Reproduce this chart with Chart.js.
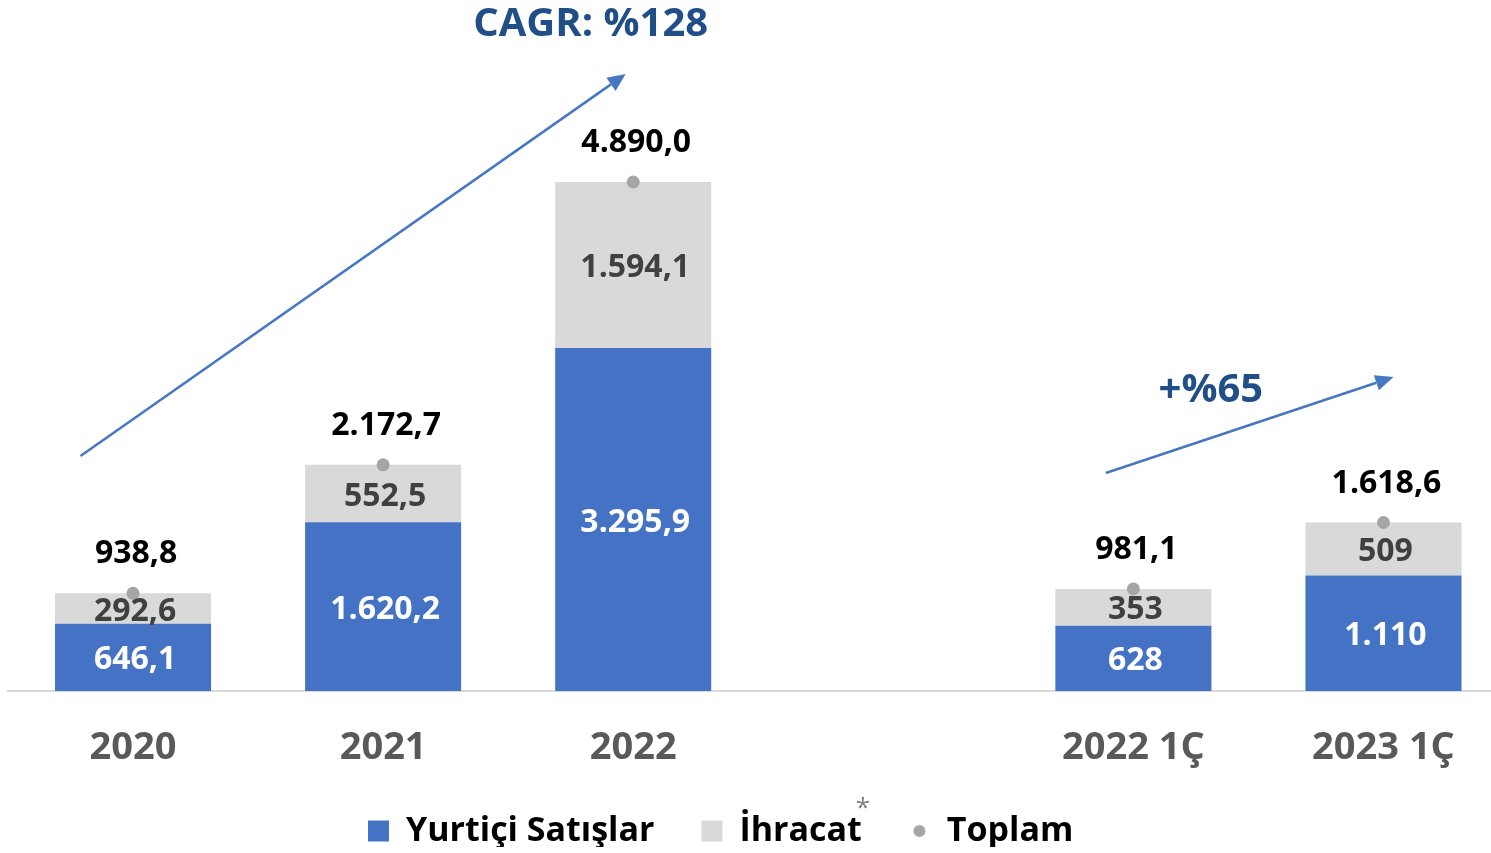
<!DOCTYPE html>
<html>
<head>
<meta charset="utf-8">
<script src="https://cdn.jsdelivr.net/npm/chart.js@4"></script>
<style>
  html, body { margin: 0; padding: 0; background: #fff; overflow: hidden; }
</style>
</head>
<body>
<canvas id="sales-chart" width="1515" height="851"></canvas>
<script>
// data (empty slot between the years and the quarters)
const categories = ['2020', '2021', '2022', '', '2022 1Ç', '2023 1Ç'];
const domesticSales = [646.1, 1620.2, 3295.9, null, 628, 1110];
const exportSales = [292.6, 552.5, 1594.1, null, 353, 509];
const totalSales = [938.8, 2172.7, 4890.0, null, 981.1, 1618.6];
const partDigits = [1, 1, 1, 0, 0, 0];
const totalDigits = [1, 1, 1, 1, 1, 1];

const FONT = "'Open Sans', sans-serif";
Chart.defaults.font.family = FONT;

// 1.234,5 style numbers
const fmt = (v, d) => {
  const [int, dec] = v.toFixed(d).split('.');
  const grouped = int.replace(/\B(?=(\d{3})+(?!\d))/g, '.');
  return dec ? grouped + ',' + dec : grouped;
}

// small grey dot for the Toplam legend entry
const dot = document.createElement('canvas');
dot.width = 21; dot.height = 21;
const dctx = dot.getContext('2d');
dctx.fillStyle = '#A5A5A5';
dctx.beginPath(); dctx.arc(10.5, 10.5, 6, 0, Math.PI * 2); dctx.fill();

const drawArrow = (ctx, x0, y0, x1, y1) => {
  const ang = Math.atan2(y1 - y0, x1 - x0);
  const len = 18, half = 8;
  const bx = x1 - Math.cos(ang) * len, by = y1 - Math.sin(ang) * len;
  ctx.beginPath();
  ctx.moveTo(x0, y0); ctx.lineTo(bx, by); ctx.stroke();
  ctx.beginPath();
  ctx.moveTo(x1, y1);
  ctx.lineTo(bx + Math.sin(ang) * half, by - Math.cos(ang) * half);
  ctx.lineTo(bx - Math.sin(ang) * half, by + Math.cos(ang) * half);
  ctx.closePath(); ctx.fill();
}

const salesLabels = {
  id: 'salesLabels',
  afterLayout(chart) {
    // legend sits left of centre in the original
    const lg = chart.legend;
    const w = lg.width, h = lg.height;
    lg.left = 368 - lg.options.labels.padding;
    lg.right = lg.left + w;
    lg.top = 767;
    lg.bottom = lg.top + h;
  },
  afterDatasetsDraw(chart, args, opts) {
    const ctx = chart.ctx;
    const xs = chart.scales.x, ys = chart.scales.y;
    ctx.save();
    ctx.textAlign = 'center';
    ctx.textBaseline = 'middle';
    ctx.font = 'bold 32px ' + FONT;
    [0, 1].forEach(di => {
      chart.getDatasetMeta(di).data.forEach((bar, i) => {
        const v = chart.data.datasets[di].data[i];
        if (v == null) return;
        ctx.fillStyle = di === 0 ? '#FFFFFF' : '#404040';
        ctx.fillText(fmt(v, partDigits[i]), bar.x + 2, (bar.y + bar.base) / 2 + 3);
      });
    });
    ctx.fillStyle = '#000000';
    chart.getDatasetMeta(2).data.forEach((pt, i) => {
      const v = totalSales[i];
      if (v == null) return;
      ctx.fillText(fmt(v, totalDigits[i]), pt.x + 3, pt.y - 39);
    });

    ctx.strokeStyle = '#4678C2';
    ctx.fillStyle = '#4678C2';
    ctx.lineWidth = 2.5;
    opts.arrows.forEach(a => {
      drawArrow(ctx, xs.getPixelForValue(a.from[0]), ys.getPixelForValue(a.from[1]),
        xs.getPixelForValue(a.to[0]), ys.getPixelForValue(a.to[1]));
    });
    ctx.fillStyle = '#1F4E89';
    ctx.font = 'bold 40px ' + FONT;
    opts.notes.forEach(n => {
      ctx.fillText(n.text, xs.getPixelForValue(n.at[0]), ys.getPixelForValue(n.at[1]));
    });
    ctx.restore();
  },
  afterDraw(chart) {
    const box = chart.legend.legendHitBoxes[1];
    if (!box) return;
    const ctx = chart.ctx;
    ctx.save();
    ctx.fillStyle = '#7F7F7F';
    ctx.font = '26px ' + FONT;
    ctx.textAlign = 'left';
    ctx.textBaseline = 'middle';
    ctx.fillText('*', box.left + box.width - 6, box.top + box.height / 2 - 22);
    ctx.restore();
  }
}

const canvas = document.getElementById('sales-chart').getContext('2d');
new Chart(canvas, {
  type: 'bar',
  data: {
    labels: categories,
    datasets: [{
        label: 'Yurtiçi Satışlar',
        data: domesticSales,
        backgroundColor: '#4472C4',
        stack: 'sales',
        order: 1,
        barPercentage: 0.624,
        categoryPercentage: 1
      }, {
        label: 'İhracat',
        data: exportSales,
        backgroundColor: '#D9D9D9',
        stack: 'sales',
        order: 1,
        barPercentage: 0.624,
        categoryPercentage: 1
      }, {
        type: 'line',
        label: 'Toplam',
        data: totalSales,
        stack: 'total',
        order: 0,
        showLine: false,
        backgroundColor: '#A5A5A5',
        pointBackgroundColor: '#A5A5A5',
        pointBorderWidth: 0,
        pointRadius: 6.5
      }
    ]
  },
  options: {
    responsive: false,
    animation: false,
    events: [],
    layout: { padding: { left: 8, right: 0, top: 0, bottom: 0 } },
    scales: {
      x: {
        stacked: true,
        grid: { display: false, drawTicks: false },
        border: { display: true, color: '#D9D9D9', width: 2 },
        ticks: { color: '#595959', padding: 34, font: { size: 38, weight: 'bold' } },
        afterFit: s => { s.height = 80; }
      },
      y: {
        stacked: true,
        display: false,
        min: 0,
        max: 6576
      }
    },
    plugins: {
      tooltip: { enabled: false },
      legend: {
        position: 'bottom',
        align: 'start',
        maxHeight: 80,
        labels: {
          usePointStyle: true,
          boxWidth: 21,
          boxHeight: 21,
          padding: 47,
          color: '#000000',
          font: { size: 34, weight: 'bold' },
          generateLabels: chart => chart.data.datasets.map((ds, i) => ({
            text: ds.label,
            fillStyle: ds.backgroundColor,
            strokeStyle: ds.backgroundColor,
            lineWidth: 0,
            pointStyle: i === 2 ? dot : 'rect',
            datasetIndex: i,
            hidden: false
          }))
        }
      },
      salesLabels: {
        arrows: [
          { from: [-0.21, 2257], to: [1.97, 5927] },
          { from: [3.89, 2094], to: [5.04, 3016] }
        ],
        notes: [
          { text: 'CAGR: %128', at: [1.83, 6400] },
          { text: '+%65', at: [4.31, 2885] }
        ]
      }
    }
  },
  plugins: [salesLabels]
});
</script>
</body>
</html>
